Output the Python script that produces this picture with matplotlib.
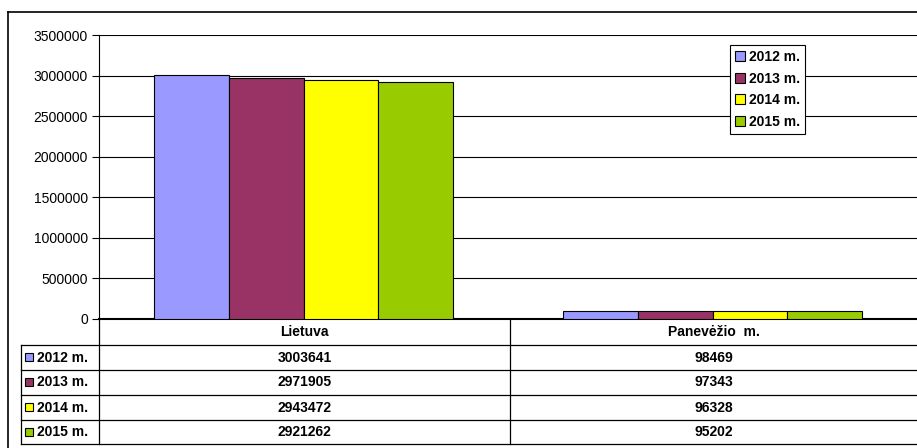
import matplotlib
matplotlib.use("Agg")
import matplotlib.pyplot as plt
from matplotlib.patches import Patch, Rectangle
import numpy as np

plt.rcParams['font.family'] = ['Liberation Sans', 'DejaVu Sans']

categories = ["Lietuva", "Panevėžio  m."]
series_names = ["2012 m.", "2013 m.", "2014 m.", "2015 m."]
values = {
    "2012 m.": [3003641, 98469],
    "2013 m.": [2971905, 97343],
    "2014 m.": [2943472, 96328],
    "2015 m.": [2921262, 95202],
}
colors = ["#9999FF", "#993366", "#FFFF00", "#99CC00"]
yticks = [0, 500000, 1000000, 1500000, 2000000, 2500000, 3000000, 3500000]

W, H = 917, 448
fig = plt.figure(figsize=(W / 100, H / 100), dpi=100)

def fx(px):
    return px / W

def fy(py):
    return 1 - py / H

# main plot axes: x 99..917, y 35..319
left, right, top, bottom = 99, 917, 35, 319
ax = fig.add_axes([fx(left), fy(bottom), fx(right - left), (bottom - top) / H])
x = np.arange(len(categories))
bw = 0.183
for i, name in enumerate(series_names):
    ax.bar(x + (i - 1.5) * bw, values[name], width=bw, color=colors[i],
           edgecolor="black", linewidth=0.8, zorder=3)
ax.set_xlim(-0.5, len(categories) - 0.5)
ax.set_ylim(0, 3500000)
ax.set_yticks(yticks)
ax.set_yticklabels([str(v) for v in yticks], fontsize=10)
ax.yaxis.grid(True, color="black", linewidth=0.8, zorder=0)
ax.set_xticks([])
for s in ["top", "right"]:
    ax.spines[s].set_visible(False)
ax.spines["left"].set_linewidth(0.8)
ax.spines["bottom"].set_linewidth(1.5)
ax.tick_params(axis="y", direction="out", length=5, width=0.8, pad=3)
ax.patch.set_alpha(0)

handles = [Patch(facecolor=colors[i], edgecolor="black", linewidth=0.8, label=n)
           for i, n in enumerate(series_names)]
leg = ax.legend(handles=handles, loc="upper left",
                bbox_to_anchor=(fx(730), fy(45)), bbox_transform=fig.transFigure,
                frameon=True, fancybox=False, edgecolor="black", framealpha=1,
                prop={"weight": "bold", "size": 10}, handlelength=0.75,
                handleheight=0.75, handletextpad=0.3, borderpad=0.35,
                labelspacing=0.55, borderaxespad=0)
leg.get_frame().set_linewidth(0.8)

# overlay axes in pixel coordinates for table and frame
ov = fig.add_axes([0, 0, 1, 1])
ov.set_xlim(0, W)
ov.set_ylim(H, 0)
ov.axis("off")
ov.patch.set_alpha(0)

lw = 0.9
# outer frame (only top and left visible within the image)
ov.plot([8, 917], [12, 12], color="black", linewidth=1.2)
ov.plot([8, 8], [12, 448], color="black", linewidth=1.2)

row_y = [345, 370, 395, 420, 444]
col_div = 510
for yy in row_y:
    ov.plot([21, 917], [yy, yy], color="black", linewidth=lw)
ov.plot([21, 21], [345, 444], color="black", linewidth=lw)
ov.plot([99, 99], [319, 444], color="black", linewidth=lw)
ov.plot([col_div, col_div], [319, 444], color="black", linewidth=lw)

col_centers = [(99 + col_div) / 2, (col_div + 917) / 2]
for c, cat in enumerate(categories):
    ov.text(col_centers[c], 332, cat, ha="center", va="center",
            fontsize=10, fontweight="bold")
for r, name in enumerate(series_names):
    yc = (row_y[r] + row_y[r + 1]) / 2
    ov.add_patch(Rectangle((25, yc - 4), 8, 8, facecolor=colors[r],
                           edgecolor="black", linewidth=0.8))
    ov.text(37, yc, name, ha="left", va="center", fontsize=10, fontweight="bold")
    for c in range(len(categories)):
        ov.text(col_centers[c], yc, str(values[name][c]), ha="center",
                va="center", fontsize=10, fontweight="bold")

fig.savefig("out.png", dpi=100)
